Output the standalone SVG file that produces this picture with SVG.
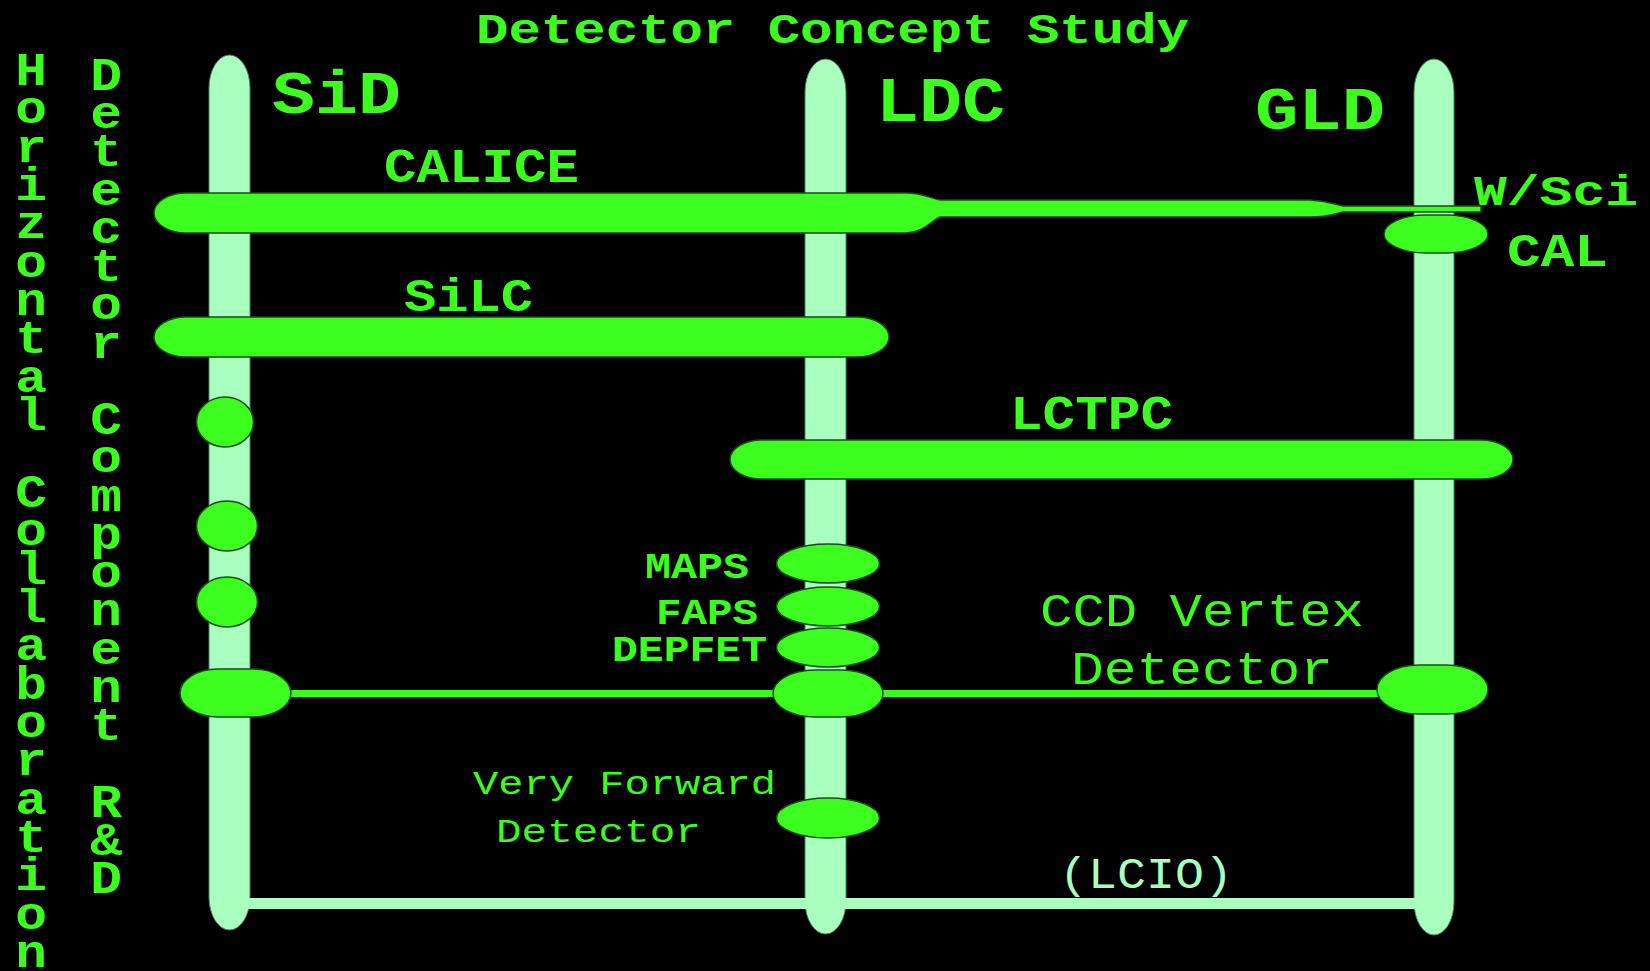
<svg xmlns="http://www.w3.org/2000/svg" width="1650" height="971" viewBox="0 0 1650 971">
<style>
.t{font-family:"Liberation Mono","Courier New",monospace;fill:#3dff1f}
.b{font-weight:bold}
.p{fill:#a9ffbe}
.bar{fill:#a9ffbe;stroke:#4f7f5f;stroke-width:1}
.g{fill:#3dff1f;stroke:#1d4a1d;stroke-width:1.5}
.ln{fill:#3dff1f}
.vt{font-family:"Liberation Mono","Courier New",monospace;font-weight:bold;font-size:46px;fill:#3dff1f;text-anchor:middle}
</style>
<rect width="1650" height="971" fill="#000"/>
<text class="t b" x="476" y="43" font-size="42" textLength="713" lengthAdjust="spacingAndGlyphs">Detector Concept Study</text>
<g id="label-horizontal" transform="translate(31,0) scale(1.15,1)">
<text class="vt"><tspan x="0" y="85">H</tspan><tspan x="0" dy="38.35">o</tspan><tspan x="0" dy="38.35">r</tspan><tspan x="0" dy="38.35">i</tspan><tspan x="0" dy="38.35">z</tspan><tspan x="0" dy="38.35">o</tspan><tspan x="0" dy="38.35">n</tspan><tspan x="0" dy="38.35">t</tspan><tspan x="0" dy="38.35">a</tspan><tspan x="0" dy="38.35">l</tspan><tspan x="0" dy="38.35"> </tspan><tspan x="0" dy="38.35">C</tspan><tspan x="0" dy="38.35">o</tspan><tspan x="0" dy="38.35">l</tspan><tspan x="0" dy="38.35">l</tspan><tspan x="0" dy="38.35">a</tspan><tspan x="0" dy="38.35">b</tspan><tspan x="0" dy="38.35">o</tspan><tspan x="0" dy="38.35">r</tspan><tspan x="0" dy="38.35">a</tspan><tspan x="0" dy="38.35">t</tspan><tspan x="0" dy="38.35">i</tspan><tspan x="0" dy="38.35">o</tspan><tspan x="0" dy="38.35">n</tspan></text>
</g>
<g id="label-component" transform="translate(106,0) scale(1.15,1)">
<text class="vt"><tspan x="0" y="90">D</tspan><tspan x="0" dy="38.24">e</tspan><tspan x="0" dy="38.24">t</tspan><tspan x="0" dy="38.24">e</tspan><tspan x="0" dy="38.24">c</tspan><tspan x="0" dy="38.24">t</tspan><tspan x="0" dy="38.24">o</tspan><tspan x="0" dy="38.24">r</tspan><tspan x="0" dy="38.24"> </tspan><tspan x="0" dy="38.24">C</tspan><tspan x="0" dy="38.24">o</tspan><tspan x="0" dy="38.24">m</tspan><tspan x="0" dy="38.24">p</tspan><tspan x="0" dy="38.24">o</tspan><tspan x="0" dy="38.24">n</tspan><tspan x="0" dy="38.24">e</tspan><tspan x="0" dy="38.24">n</tspan><tspan x="0" dy="38.24">t</tspan><tspan x="0" dy="38.24"> </tspan><tspan x="0" dy="38.24">R</tspan><tspan x="0" dy="38.24">&amp;</tspan><tspan x="0" dy="38.24">D</tspan></text>
</g>
<g id="sid">
<rect class="bar" x="209" y="55" width="41" height="875" rx="20.5" ry="33"/>
<text class="t b" x="272" y="113" font-size="62" textLength="129" lengthAdjust="spacingAndGlyphs">SiD</text>
</g>
<g id="ldc">
<rect class="bar" x="805" y="59" width="41" height="875" rx="20.5" ry="33"/>
<text class="t b" x="876" y="121" font-size="63" textLength="129" lengthAdjust="spacingAndGlyphs">LDC</text>
</g>
<g id="gld">
<rect class="bar" x="1414" y="59" width="40" height="876" rx="20" ry="33"/>
<text class="t b" x="1255" y="129" font-size="62" textLength="130" lengthAdjust="spacingAndGlyphs">GLD</text>
</g>
<g id="connectors">
<rect class="p" x="229" y="898" width="1205" height="11"/>
<text class="t p" x="1059" y="888" font-size="45" textLength="174" lengthAdjust="spacingAndGlyphs">(LCIO)</text>
<rect class="ln" x="285" y="690" width="1100" height="7"/>
</g>
<g id="calice">
<path class="g" d="M186,193 L906,193 C922,193 930,198 940,200 L1310,200 C1330,201 1336,205 1343,206 L1481,206 L1481,212 L1343,212 C1334,214 1328,217 1310,217 L940,217 C930,222 922,233 906,233 L186,233 A32,20 0 0 1 186,193 Z"/>
<text class="t b" x="384" y="182" font-size="48" textLength="195" lengthAdjust="spacingAndGlyphs">CALICE</text>
</g>
<g id="wsci-cal">
<rect class="g" x="1384" y="215" width="104" height="38" rx="42" ry="19"/>
<text class="t b" x="1474" y="205" font-size="42" textLength="164" lengthAdjust="spacingAndGlyphs">W/Sci</text>
<text class="t b" x="1507" y="266" font-size="47" textLength="101" lengthAdjust="spacingAndGlyphs">CAL</text>
</g>
<g id="silc">
<rect class="g" x="154" y="317" width="735" height="40" rx="32" ry="20"/>
<text class="t b" x="404" y="311" font-size="47" textLength="129" lengthAdjust="spacingAndGlyphs">SiLC</text>
</g>
<g id="lctpc">
<rect class="g" x="730" y="440" width="783" height="39" rx="32" ry="19.5"/>
<text class="t b" x="1010" y="429" font-size="48" textLength="163" lengthAdjust="spacingAndGlyphs">LCTPC</text>
</g>
<g id="sid-blob-1"><ellipse class="g" cx="225" cy="422" rx="28.5" ry="25"/></g>
<g id="sid-blob-2"><ellipse class="g" cx="227" cy="526" rx="30.5" ry="25"/></g>
<g id="sid-blob-3"><ellipse class="g" cx="227" cy="602" rx="30.5" ry="25"/></g>
<g id="maps">
<ellipse class="g" cx="828" cy="563.5" rx="51.5" ry="19.5"/>
<text class="t b" x="645" y="578" font-size="36" textLength="104" lengthAdjust="spacingAndGlyphs">MAPS</text>
</g>
<g id="faps">
<ellipse class="g" cx="828" cy="606.5" rx="51.5" ry="19.5"/>
<text class="t b" x="656" y="624" font-size="36" textLength="102" lengthAdjust="spacingAndGlyphs">FAPS</text>
</g>
<g id="depfet">
<ellipse class="g" cx="828" cy="647.5" rx="51.5" ry="19.5"/>
<text class="t b" x="612" y="661" font-size="36" textLength="155" lengthAdjust="spacingAndGlyphs">DEPFET</text>
</g>
<g id="ccd">
<rect class="g" x="180" y="669" width="111" height="48" rx="38" ry="24"/>
<rect class="g" x="773" y="670" width="110" height="47" rx="42" ry="23.5"/>
<rect class="g" x="1377" y="665" width="111" height="49" rx="42" ry="24.5"/>
<text class="t" x="1040" y="626" font-size="47" textLength="324" lengthAdjust="spacingAndGlyphs">CCD Vertex</text>
<text class="t" x="1071" y="684" font-size="47" textLength="262" lengthAdjust="spacingAndGlyphs">Detector</text>
</g>
<g id="vfd">
<ellipse class="g" cx="828" cy="818" rx="51.5" ry="20"/>
<text class="t" x="473" y="794" font-size="34" textLength="303" lengthAdjust="spacingAndGlyphs">Very Forward</text>
<text class="t" x="496" y="842" font-size="34" textLength="205" lengthAdjust="spacingAndGlyphs">Detector</text>
</g>
</svg>
